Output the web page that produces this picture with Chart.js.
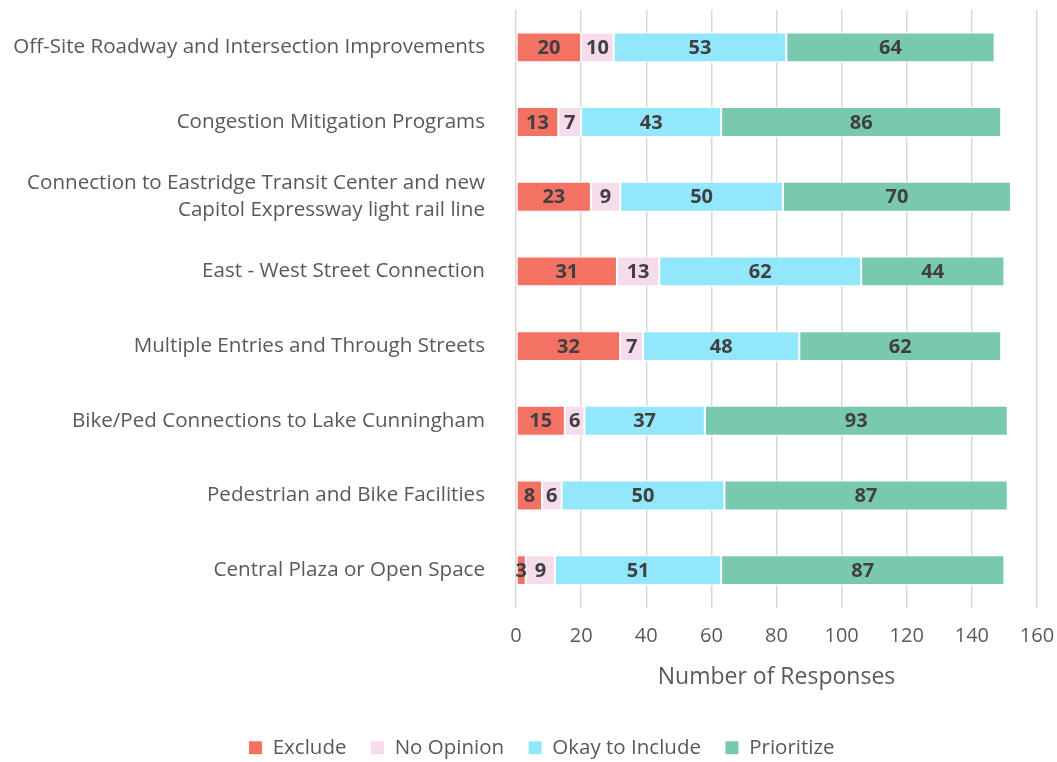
<!DOCTYPE html>
<html lang="en">
<head>
    <meta charset="UTF-8">
    <title>Number of Responses</title>
    <script src="https://cdn.jsdelivr.net/npm/chart.js"></script>
    <style>
        html, body { margin: 0; padding: 0; background: #fff; }
        .chart-container { width: 1057px; height: 762px; }
    </style>
</head>
<body>
    <div class="chart-container">
        <canvas id="responsesChart"></canvas>
    </div>

    <script>
        const categories = [
            'Off-Site Roadway and Intersection Improvements',
            'Congestion Mitigation Programs',
            ['Connection to Eastridge Transit Center and new', 'Capitol Expressway light rail line'],
            'East - West Street Connection',
            'Multiple Entries and Through Streets',
            'Bike/Ped Connections to Lake Cunningham',
            'Pedestrian and Bike Facilities',
            'Central Plaza or Open Space'
        ];
        const exclude    = [20, 13, 23, 31, 32, 15, 8, 3];
        const noOpinion  = [10, 7, 9, 13, 7, 6, 6, 9];
        const okToInclude = [53, 43, 50, 62, 48, 37, 50, 51];
        const prioritize = [64, 86, 70, 44, 62, 93, 87, 87];
        const xTicks = [0, 20, 40, 60, 80, 100, 120, 140, 160];

        const fontFamily = '"Open Sans", sans-serif';
        const textColor = '#595959';

        // draws the value in the middle of each bar segment
        const barValues = {
            id: 'barValues',
            afterDatasetsDraw(chart) {
                const ctx = chart.ctx;
                ctx.save();
                ctx.font = 'bold 20px ' + fontFamily;
                ctx.fillStyle = '#404040';
                ctx.textAlign = 'center';
                ctx.textBaseline = 'middle';
                chart.data.datasets.forEach((ds, i) => {
                    const meta = chart.getDatasetMeta(i);
                    meta.data.forEach((bar, j) => {
                        ctx.fillText(String(ds.data[j]), (bar.x + bar.base) / 2, bar.y + 1);
                    });
                });
                ctx.restore();
            }
        };

        // legend in the original sits a bit right of the canvas centre
        const legendShift = {
            id: 'legendShift',
            afterLayout(chart) {
                if (chart.legend) chart.legend.left += 46;
            }
        };

        const ctx = document.getElementById('responsesChart').getContext('2d');
        const responsesChart = new Chart(ctx, {
            type: 'bar',
            data: {
                labels: categories,
                datasets: [{
                    label: 'Exclude',
                    data: exclude,
                    backgroundColor: '#F47264'
                }, {
                    label: 'No Opinion',
                    data: noOpinion,
                    backgroundColor: '#F6DCEB'
                }, {
                    label: 'Okay to Include',
                    data: okToInclude,
                    backgroundColor: '#93E7FD'
                }, {
                    label: 'Prioritize',
                    data: prioritize,
                    backgroundColor: '#78C9AF'
                }]
            },
            options: {
                indexAxis: 'y',
                responsive: true,
                maintainAspectRatio: false,
                animation: false,
                datasets: {
                    bar: {
                        categoryPercentage: 1,
                        barPercentage: 0.4,
                        borderColor: '#ffffff',
                        borderWidth: 1,
                        borderSkipped: false
                    }
                },
                layout: {
                    padding: { top: 10, right: 20, left: 0, bottom: -6 }
                },
                scales: {
                    x: {
                        stacked: true,
                        min: 0,
                        max: 160,
                        afterBuildTicks: axis => {
                            axis.ticks = xTicks.map(v => ({ value: v }));
                        },
                        afterFit: scale => {
                            scale.height = 106;
                            scale.paddingLeft = 0;
                            scale.paddingRight = 0;
                        },
                        grid: {
                            color: '#d9d9d9',
                            lineWidth: 1.5,
                            drawTicks: false
                        },
                        border: { display: false },
                        ticks: {
                            padding: 17,
                            color: textColor,
                            font: { family: fontFamily, size: 20 }
                        },
                        title: {
                            display: true,
                            text: 'Number of Responses',
                            color: textColor,
                            padding: { top: 12, bottom: 22 },
                            font: { family: fontFamily, size: 23 }
                        }
                    },
                    y: {
                        stacked: true,
                        afterFit: scale => {
                            scale.width = 516;
                            scale.paddingTop = 0;
                            scale.paddingBottom = 0;
                        },
                        grid: { display: false },
                        border: { display: false },
                        ticks: {
                            padding: 23,
                            color: textColor,
                            font: { family: fontFamily, size: 20.6, lineHeight: 1.3 }
                        }
                    }
                },
                plugins: {
                    legend: {
                        position: 'bottom',
                        labels: {
                            color: textColor,
                            boxWidth: 14,
                            boxHeight: 14,
                            padding: 24,
                            font: { family: fontFamily, size: 20.5 }
                        }
                    },
                    tooltip: { enabled: false }
                }
            },
            plugins: [barValues, legendShift]
        });
    </script>
</body>
</html>
